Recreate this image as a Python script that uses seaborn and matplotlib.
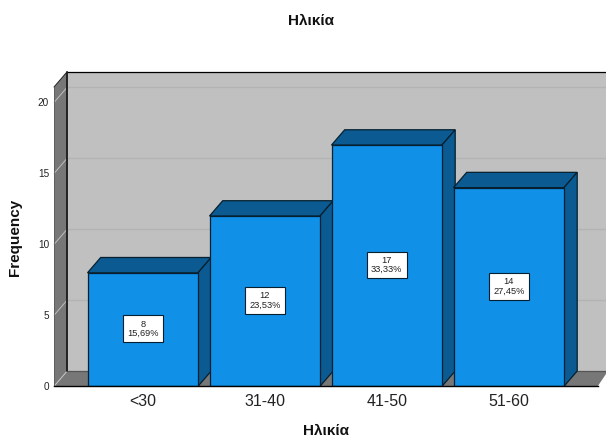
import matplotlib
matplotlib.use("Agg")
import matplotlib.pyplot as plt
import seaborn as sns
import pandas as pd
from matplotlib.patches import Polygon

# Survey counts per age band
age_groups = ["<30", "31-40", "41-50", "51-60"]
counts = [8, 12, 17, 14]
percents = ["15,69%", "23,53%", "33,33%", "27,45%"]
y_ticks = [0, 5, 10, 15, 20]

FRONT = "#1190E8"
SIDE = "#0B5A92"
WALL = "#C0C0C0"
DARK_WALL = "#777777"
EDGE = "#06202F"

W, H = 606, 436
sns.set_theme(style="white", rc={"font.family": ["Liberation Sans", "DejaVu Sans"]})

fig = plt.figure(figsize=(W / 100, H / 100), dpi=100, facecolor="white")
# Front plane of the box, placed in pixel terms
left, right, top, bottom = 54.0, 597.7, 87.0, 386.3
ax = fig.add_axes([left / W, 1 - bottom / H, (right - left) / W, (bottom - top) / H])
ax.patch.set_visible(False)

px_per_cat = 122.0
px_per_val = 14.19
ax.set_xlim((left - 142.75) / px_per_cat, (right - 142.75) / px_per_cat)
ax.set_ylim(0, (bottom - top) / px_per_val)
x0, x1 = ax.get_xlim()
y1 = ax.get_ylim()[1]

# Depth of the extrusion, in data units
dx = 13.2 / px_per_cat
dy = 15.3 / px_per_val
bar_w = 110.5 / px_per_cat


def face(points, color, z, lw=0.9, ec=EDGE):
    ax.add_patch(Polygon(points, closed=True, fc=color, ec=ec, lw=lw, zorder=z,
                         clip_on=False, joinstyle="miter"))


# Back wall, left wall and floor
x_edge = (W + 2 - 142.75) / px_per_cat
face([(x0 + dx, dy), (x_edge, dy), (x_edge, y1 + dy), (x0 + dx, y1 + dy)], WALL, 0.5, lw=0)
face([(x0, 0), (x0 + dx, dy), (x0 + dx, y1 + dy), (x0, y1)], DARK_WALL, 0.6, lw=0)
face([(x0, 0), (x1, 0), (x_edge, dy), (x0 + dx, dy)], DARK_WALL, 0.6, lw=0)
ax.plot([x0 + dx, x_edge], [y1 + dy, y1 + dy], color="black", lw=0.9, zorder=0.9, clip_on=False)
ax.plot([x0 + dx, x0 + dx], [y1 + dy, dy], color="#1A1A1A", lw=1.3, zorder=0.95, clip_on=False)
ax.plot([x0, x0 + dx], [y1, y1 + dy], color="#222222", lw=0.7, zorder=0.96, clip_on=False)
ax.plot([x0, x0], [0, y1], color="#555555", lw=0.5, zorder=0.96, clip_on=False)
ax.plot([x0 + dx, x_edge], [dy, dy], color="#555555", lw=0.9, zorder=0.7, clip_on=False)
ax.plot([x0, x0 + dx], [0, dy], color="#C4C4C4", lw=0.7, zorder=0.8, clip_on=False)

# Gridlines along the back wall, bent onto the left wall
for t in y_ticks[1:]:
    ax.plot([x0 + dx, x_edge], [t + dy, t + dy], color="#B3B3B3", lw=1.0, zorder=0.8, clip_on=False)
    ax.plot([x0, x0 + dx], [t, t + dy], color="#BEBEBE", lw=0.7, zorder=0.8, clip_on=False)

# Front faces of the bars
data = pd.DataFrame({"age": age_groups, "count": counts})
sns.barplot(data=data, x="age", y="count", order=age_groups, color=FRONT, saturation=1,
            width=bar_w, edgecolor=EDGE, linewidth=0.9, ax=ax, zorder=3)
ax.set_xlim(x0, x1)
ax.set_ylim(0, y1)

# Top and side faces plus the value boxes
for i, (n, pct) in enumerate(zip(counts, percents)):
    a, b = i - bar_w / 2, i + bar_w / 2
    face([(a, n), (b, n), (b + dx, n + dy), (a + dx, n + dy)], SIDE, 2 + i * 0.1)
    face([(b, 0), (b + dx, dy), (b + dx, n + dy), (b, n)], SIDE, 2 + i * 0.1)
    ax.annotate(f"{n}\n{pct}", (i, n / 2), ha="center", va="center", fontsize=6.7,
                color="#222222", linespacing=1.05, zorder=6, annotation_clip=False,
                xytext=(0, 0.5), textcoords="offset points",
                bbox=dict(boxstyle="square,pad=0.46", fc="white", ec=EDGE, lw=0.8))

# Axes furniture
sns.despine(ax=ax, left=True, right=True, top=True, bottom=False)
ax.spines["bottom"].set_color("black")
ax.spines["bottom"].set_linewidth(1.0)
ax.spines["bottom"].set_zorder(5)
ax.set_yticks(y_ticks)
ax.set_yticklabels([str(t) for t in y_ticks], fontsize=7.2, color="#222222")
ax.tick_params(axis="y", length=0, pad=3.5)
ax.tick_params(axis="x", length=0, pad=5.5, labelsize=11.5, labelcolor="#222222")
ax.set_xticks(range(len(age_groups)))
ax.set_xticklabels(age_groups)
ax.set_xlabel("")
ax.set_ylabel("")

fig.text(311 / W, 1 - 21 / H, "Ηλικία", ha="center", va="center", fontsize=11, fontweight="bold",
         color="#111111")
fig.text(326 / W, 1 - 430.5 / H, "Ηλικία", ha="center", va="center", fontsize=11, fontweight="bold",
         color="#111111")
fig.text(15.5 / W, 1 - 237 / H, "Frequency", ha="center", va="center", rotation=90, fontsize=11,
         fontweight="bold", color="#111111")

fig.savefig("out.png", dpi=100, facecolor="white")
